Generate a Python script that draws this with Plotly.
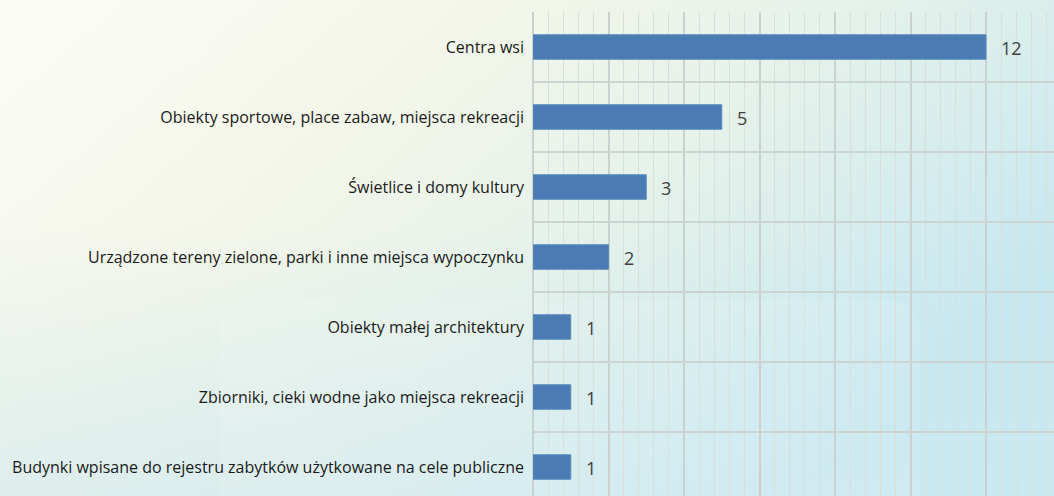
import base64
import plotly.graph_objects as go

categories = [
    "Centra wsi",
    "Obiekty sportowe, place zabaw, miejsca rekreacji",
    "Świetlice i domy kultury",
    "Urządzone tereny zielone, parki i inne miejsca wypoczynku",
    "Obiekty małej architektury",
    "Zbiorniki, cieki wodne jako miejsca rekreacji",
    "Budynki wpisane do rejestru zabytków użytkowane na cele publiczne",
]
values = [12, 5, 3, 2, 1, 1, 1]

W, H = 1054, 496
ML, MT = 533, 12
plot_w, plot_h = W - ML, H - MT
px_per_unit = 37.75
row_px = 70.0

svg = f'''<svg xmlns="http://www.w3.org/2000/svg" width="{W}" height="{H}" viewBox="0 0 {W} {H}" preserveAspectRatio="none">
<defs>
<linearGradient id="g" x1="0" y1="0" x2="1" y2="0.55">
<stop offset="0" stop-color="#fcfcf6"/>
<stop offset="0.35" stop-color="#f4f6ea"/>
<stop offset="0.62" stop-color="#e6f2ea"/>
<stop offset="0.85" stop-color="#d3ecee"/>
<stop offset="1" stop-color="#c4e7ef"/>
</linearGradient>
<linearGradient id="v" x1="0" y1="0" x2="0" y2="1">
<stop offset="0.45" stop-color="#cfe9f0" stop-opacity="0"/>
<stop offset="1" stop-color="#cfe9f0" stop-opacity="0.55"/>
</linearGradient>
</defs>
<rect x="0" y="0" width="{W}" height="{H}" fill="url(#g)"/>
<rect x="0" y="0" width="{W}" height="{H}" fill="url(#v)"/>
<rect x="-40" y="-60" width="250" height="130" rx="40" fill="#ffffff" opacity="0.15"/>
<rect x="220" y="300" width="700" height="260" rx="30" fill="#ffffff" opacity="0.1"/>
</svg>'''
src = "data:image/svg+xml;base64," + base64.b64encode(svg.encode("utf-8")).decode("ascii")

fig = go.Figure()
fig.add_trace(go.Bar(
    x=values,
    y=categories,
    orientation="h",
    width=0.35,
    marker=dict(color="#4a7cb3", line=dict(color="#5a8bbf", width=1)),
    hoverinfo="skip",
))

for c, v in zip(categories, values):
    fig.add_annotation(
        x=v, y=c, text=str(v), showarrow=False,
        xanchor="left", xshift=13, yshift=-1,
        font=dict(family="Open Sans", size=18, color="#404040"),
    )

x_max = plot_w / px_per_unit
y_bottom = -0.5 + plot_h / row_px

fig.update_layout(
    width=W, height=H,
    margin=dict(l=ML, r=0, t=MT, b=0, pad=0),
    paper_bgcolor="rgba(0,0,0,0)",
    plot_bgcolor="rgba(0,0,0,0)",
    showlegend=False,
    hovermode=False,
    font=dict(family="Open Sans", size=16, color="#1a1a1a"),
    images=[dict(
        source=src, xref="paper", yref="paper",
        x=-ML / plot_w, y=1 + MT / plot_h,
        sizex=W / plot_w, sizey=H / plot_h,
        xanchor="left", yanchor="top", sizing="stretch", layer="below",
    )],
    xaxis=dict(
        range=[0, x_max], dtick=2, tick0=0,
        showticklabels=False, showgrid=True,
        gridcolor="#cad2cf", gridwidth=2,
        zeroline=True, zerolinecolor="#cad2cf", zerolinewidth=2,
        showline=False,
        minor=dict(dtick=0.4, tick0=0, showgrid=True, gridcolor="#d8e0dc", gridwidth=1),
        fixedrange=True,
    ),
    yaxis=dict(
        type="category",
        categoryorder="array", categoryarray=categories,
        range=[y_bottom, -0.5],
        tickson="boundaries",
        showgrid=True, gridcolor="#ccd4d1", gridwidth=2,
        ticks="", ticklabelstandoff=8,
        tickfont=dict(family="Open Sans", size=16, color="#1a1a1a"),
        showline=False, fixedrange=True,
    ),
)

fig.write_html(
    "out.html",
    config={"displayModeBar": False, "staticPlot": True},
    post_script="document.body.style.margin='0';document.body.style.overflow='hidden';",
)
